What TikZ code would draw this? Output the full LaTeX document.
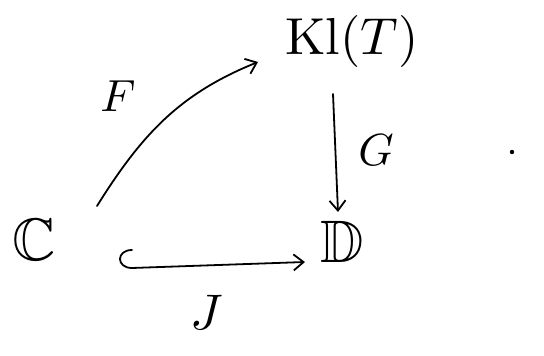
\documentclass[tikz,border=0pt]{standalone}
\usepackage{amssymb}
\usepackage{graphicx}
\usetikzlibrary{arrows.meta}
\newcommand{\bigobj}[2]{\scalebox{#1}{#2}}
\begin{document}
\begin{tikzpicture}[x=1pt,y=1pt,
  obj/.style={inner sep=0pt},
  lbl/.style={inner sep=0pt},
  arr/.style={line width=1.8pt, line cap=round, line join=round, -{Straight Barb[length=10pt,width=16pt,line width=1.8pt]}}]
\useasboundingbox (0,0) rectangle (544,356);
\node[obj] (C) at (34,116) {\bigobj{6}{$\mathbb{C}$}};
\node[obj] (D) at (342,114) {\bigobj{6}{$\mathbb{D}$}};
\node[obj] (Kl) at (352,314) {\bigobj{5.2}{$\mathrm{Kl}(T)$}};
\node[lbl] (F) at (118,260) {\bigobj{4.5}{$F$}};
\node[lbl] (G) at (376,206) {\bigobj{4.5}{$G$}};
\node[lbl] (J) at (207,44) {\bigobj{5}{$J$}};
\fill (512,204) circle (2.2pt) coordinate (dot);
\draw[arr] ([shift={(63,34)}]C.center) to[out=58,in=202] ([shift={(-94,-20)}]Kl.center);
\draw[arr] ([shift={(-19,-52)}]Kl.center) -- ([shift={(-4,30)}]D.center);
\coordinate (hk) at ([shift={(98,-10)}]C.center);
\draw[arr] (hk) .. controls +(-16,0) and +(-16,0) .. ([shift={(0,-18)}]hk) -- ([shift={(-37,-20)}]D.center);
\end{tikzpicture}
\end{document}
